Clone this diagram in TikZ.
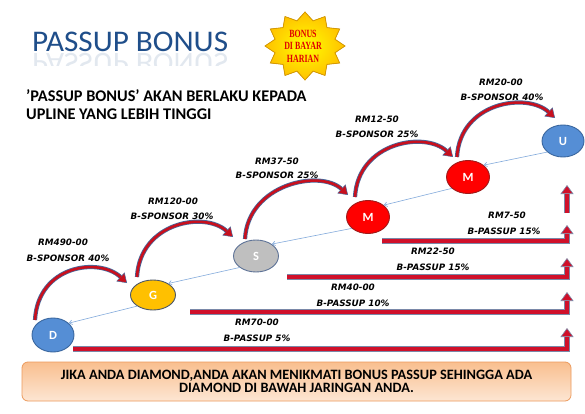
\documentclass[tikz,border=0pt]{standalone}
\usepackage{fontspec}
\setmainfont{Carlito}
\newfontfamily\handfont{DejaVu Sans}
\newfontfamily\badgefont{Liberation Serif}
\usetikzlibrary{arrows.meta,shapes.geometric,backgrounds}
\definecolor{titleblue}{HTML}{1F4E8A}
\definecolor{dblue}{HTML}{558ED5}
\definecolor{dblueedge}{HTML}{3A679F}
\definecolor{gold}{HTML}{FFC000}
\definecolor{goldedge}{HTML}{4A5668}
\definecolor{sgray}{HTML}{BFBFBF}
\definecolor{sgrayedge}{HTML}{5E7397}
\definecolor{mred}{HTML}{FF0000}
\definecolor{mrededge}{HTML}{9E1B1B}
\definecolor{cred}{HTML}{C8101E}
\definecolor{cedge}{HTML}{46679A}
\definecolor{barred}{HTML}{D0102A}
\definecolor{baredge}{HTML}{7A88A8}
\definecolor{thinblue}{HTML}{84ABDC}
\definecolor{noteedge}{HTML}{EC9A5C}
\definecolor{notetop}{HTML}{F9BF8F}
\definecolor{notebot}{HTML}{FDE6D3}
\definecolor{staryel}{HTML}{FFFF00}
\definecolor{starorg}{HTML}{FFC000}
\definecolor{staredge}{HTML}{D89A00}
\definecolor{badgered}{HTML}{E00000}
\begin{document}
\begin{tikzpicture}[x=1pt,y=-1pt,
  ell/.style={ellipse, draw, line width=0.9pt, minimum width=43pt, minimum height=33pt,
    inner sep=0pt, text=white, font=\fontsize{12.5}{12.5}\selectfont\bfseries},
  hand/.style={inner sep=0pt, font=\handfont\fontsize{8.8}{9}\selectfont\bfseries\itshape},
  thinarr/.style={draw=thinblue, line width=0.6pt, -{Straight Barb[length=3pt,width=4.5pt]}},
  notebox/.style={rounded corners=6pt, draw=noteedge, line width=0.8pt, top color=notetop,
    bottom color=notebot, minimum width=549pt, minimum height=39pt, inner sep=0pt,
    align=center, font=\fontsize{14.3}{13}\selectfont\bfseries},
  subt/.style={anchor=base west, inner sep=0pt, font=\fontsize{16.3}{17}\selectfont\bfseries},
  titlefont/.style={anchor=base west, inner sep=0pt, text=titleblue, xscale=1.04,
    font=\fontsize{30}{30}\selectfont}
]
\useasboundingbox (0,0) rectangle (585,414);

% title and reflection
\node[titlefont] (title) at (32,52) {PASSUP BONUS};
\begin{scope}
\clip (20,53) rectangle (240,66);
\node[titlefont, yscale=-1, opacity=0.13] (titlerefl) at (32,54) {PASSUP BONUS};
\end{scope}

% badge star
\filldraw[draw=staredge, line width=0.8pt, inner color=staryel, outer color=starorg]
  plot[variable=\k, samples at={0,...,23}]
  ({305+ifthenelse(mod(\k,2)==0,40,31)*cos(90+15*\k)}, {46-ifthenelse(mod(\k,2)==0,34,26)*sin(90+15*\k)}) -- cycle;
\node[inner sep=0pt, align=center, text=badgered, xscale=0.72,
  font=\badgefont\fontsize{11}{12.5}\selectfont\bfseries] (badge) at (303,46) {BONUS\\DI BAYAR\\HARIAN};

% subtitle
\node[subt] (sub1) at (26,102) {'PASSUP BONUS' AKAN BERLAKU KEPADA};
\node[subt] (sub2) at (26,119.5) {UPLINE YANG LEBIH TINGGI};

% level nodes
\node[ell, fill=dblue, draw=dblueedge, minimum width=42pt, minimum height=34pt] (D) at (53,335) {D};
\node[ell, fill=gold, draw=goldedge, minimum width=45pt, minimum height=30pt] (G) at (153,295) {G};
\node[ell, fill=sgray, draw=sgrayedge, minimum width=45pt, minimum height=32pt] (S) at (256,256) {S};
\node[ell, fill=mred, draw=mrededge] (M1) at (368,217) {M};
\node[ell, fill=mred, draw=mrededge] (M2) at (468,177) {M};
\node[ell, fill=dblue, draw=dblueedge, minimum width=42pt, minimum height=32pt] (U) at (563,141) {U};

% thin connectors
\draw[thinarr] (U.215) -- (M2.37);
\draw[thinarr] (M2.215) -- (M1.37);
\draw[thinarr] (M1.215) -- (S.37);
\draw[thinarr] (S.215) -- (G.37);
\draw[thinarr] (G.215) -- (D.37);

% bar coordinates
\coordinate (b1s) at (382,241); \coordinate (b1t) at (567,225);
\coordinate (b2s) at (287,277); \coordinate (b2t) at (567,258);
\coordinate (b3s) at (190,312); \coordinate (b3t) at (567,292);
\coordinate (b4s) at (73,349);  \coordinate (b4t) at (567,328);
\coordinate (b5s) at (567,213); \coordinate (b5t) at (567,185);

\begin{scope}[on background layer]
\fill[white] (0,0) rectangle (585,414);
\foreach \s/\t in {b1s/b1t, b2s/b2t, b3s/b3t, b4s/b4t}{
  \draw[baredge, line width=5.6pt, -{Triangle[length=9pt,width=13pt,line width=0.6pt,fill=barred]}] (\s) -| (\t);
  \draw[barred, line width=4pt, shorten >=9pt] (\s) -| (\t);
}
\draw[baredge, line width=5.6pt, -{Triangle[length=9pt,width=13pt,line width=0.6pt,fill=barred]}] (b5s) -- (b5t);
\draw[barred, line width=4pt, shorten >=9pt] (b5s) -- (b5t);

\foreach \a/\sx/\sy/\b/\ex/\ey in {D/-18/-15/G/-26/-12, G/-16/-18/S/-23/-19, S/-11/-17/M1/-20/-22, M1/-13/-20/M2/-15/-20, M2/-11/-20/U/-8/-23}{
  \draw[cedge, line width=4.2pt, -{Triangle[length=9pt,width=12pt,line width=0.5pt,fill=cred]}]
    ([shift={(\sx,\sy)}]\a.center) .. controls +(3,-55) and +(-28,-26) .. ([shift={(\ex,\ey)}]\b.center);
  \draw[cred, line width=2.6pt, shorten >=8.5pt]
    ([shift={(\sx,\sy)}]\a.center) .. controls +(3,-55) and +(-28,-26) .. ([shift={(\ex,\ey)}]\b.center);
}
\end{scope}

% sponsor labels
\node[hand] (l1a) at (63,242) {RM490-00};
\node[hand] (l1b) at (68,258) {B-SPONSOR 40\%};
\node[hand] (l2a) at (173,201) {RM120-00};
\node[hand] (l2b) at (172,216) {B-SPONSOR 30\%};
\node[hand] (l3a) at (277,161) {RM37-50};
\node[hand] (l3b) at (277,175) {B-SPONSOR 25\%};
\node[hand] (l4a) at (377,119) {RM12-50};
\node[hand] (l4b) at (377,134) {B-SPONSOR 25\%};
\node[hand] (l5a) at (501,82) {RM20-00};
\node[hand] (l5b) at (502,97) {B-SPONSOR 40\%};
% passup labels
\node[hand] (p1a) at (507,215) {RM7-50};
\node[hand] (p1b) at (504,231) {B-PASSUP 15\%};
\node[hand] (p2a) at (433,251) {RM22-50};
\node[hand] (p2b) at (433,267) {B-PASSUP 15\%};
\node[hand] (p3a) at (353,287) {RM40-00};
\node[hand] (p3b) at (353,303) {B-PASSUP 10\%};
\node[hand] (p4a) at (257,322) {RM70-00};
\node[hand] (p4b) at (257,338) {B-PASSUP 5\%};

% bottom note
\node[notebox] (note) at (296.5,381.5) {JIKA ANDA DIAMOND,ANDA AKAN MENIKMATI BONUS PASSUP SEHINGGA ADA\\DIAMOND DI BAWAH JARINGAN ANDA.};
\end{tikzpicture}
\end{document}
